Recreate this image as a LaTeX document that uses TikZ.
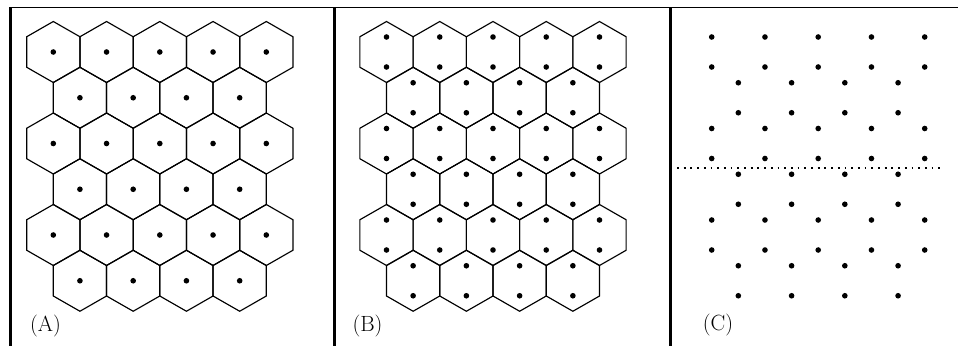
\documentclass[tikz,border=0pt]{standalone}
\begin{document}
\begin{tikzpicture}[x=1pt,y=-1pt,
  hexline/.style={line width=1.15pt, line join=miter},
  frameline/.style={line width=2.4pt},
  topline/.style={line width=1.6pt},
  dotfill/.style={fill=black},
  sepline/.style={line width=1.3pt, dash pattern=on 1.8pt off 4.9pt},
  lbl/.style={font=\fontsize{22}{26}\selectfont, inner sep=0pt}]
\useasboundingbox (0,0) rectangle (958,346);
\def\W{53.25}\def\A{26.625}\def\H{45.75}\def\R{30.5}\def\Rh{15.25}
\def\dr{2.8}
% frame
\draw[topline] (9.3,7.5) -- (958,7.5);
\draw[frameline] (10.5,7) -- (10.5,346);
\draw[frameline] (334.5,7) -- (334.5,346);
\draw[frameline] (670.5,7) -- (670.5,346);
% hexagon grids (A) and (B)
\foreach \ox in {53.3,386.5}{
  \foreach \r in {0,...,5}{
    \pgfmathsetmacro\cy{52+\r*\H}
    \pgfmathtruncatemacro\odd{mod(\r,2)}
    \pgfmathtruncatemacro\nmax{4-\odd}
    \foreach \c in {0,...,\nmax}{
      \pgfmathsetmacro\cx{\ox+\c*\W+\odd*\W/2}
      \draw[hexline] (\cx,\cy-\R) -- (\cx+\A,\cy-\Rh) -- (\cx+\A,\cy+\Rh)
        -- (\cx,\cy+\R) -- (\cx-\A,\cy+\Rh) -- (\cx-\A,\cy-\Rh) -- cycle;
    }
  }
}
% dots (A): one per cell
\foreach \r in {0,...,5}{
  \pgfmathsetmacro\cy{52+\r*\H}
  \pgfmathtruncatemacro\odd{mod(\r,2)}
  \pgfmathtruncatemacro\nmax{4-\odd}
  \foreach \c in {0,...,\nmax}{
    \pgfmathsetmacro\cx{53.3+\c*\W+\odd*\W/2}
    \fill[dotfill] (\cx,\cy) circle[radius=\dr];
  }
}
% dots (B) and (C): two per cell
\foreach \ox in {386.5,711.7}{
  \foreach \r in {0,...,5}{
    \pgfmathsetmacro\cy{52+\r*\H}
    \pgfmathtruncatemacro\odd{mod(\r,2)}
    \pgfmathtruncatemacro\nmax{4-\odd}
    \foreach \c in {0,...,\nmax}{
      \pgfmathsetmacro\cx{\ox+\c*\W+\odd*\W/2}
      \fill[dotfill] (\cx,\cy-15) circle[radius=\dr];
      \fill[dotfill] (\cx,\cy+15) circle[radius=\dr];
    }
  }
}
% dotted separator in (C)
\coordinate (sepL) at (677,168);
\coordinate (sepR) at (943,168);
\draw[sepline] (sepL) -- (sepR);
% labels
\node[lbl] (la) at (45.5,326) {(A)};
\node[lbl] (lb) at (367.5,326) {(B)};
\node[lbl] (lc) at (718,325) {(C)};
\end{tikzpicture}
\end{document}
